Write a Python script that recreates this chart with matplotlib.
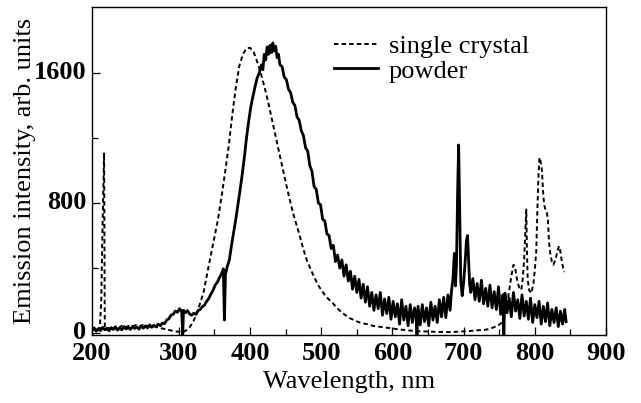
import matplotlib
matplotlib.use("Agg")
import matplotlib.pyplot as plt
import matplotlib.transforms as mtransforms
from matplotlib.ticker import FixedLocator

plt.rcParams['font.family'] = ['Liberation Serif', 'DejaVu Serif']

# ---------------- data ----------------
crystal_nm = [178, 182, 186, 189, 191, 193, 195, 196, 199, 203, 207, 211, 215, 220, 225,
              230, 235, 240, 245, 250, 255, 260, 265, 270, 275, 280, 285, 290, 295, 300,
              305, 310, 315, 320, 325, 330, 335, 340, 345, 350, 355, 360, 365, 370, 375,
              380, 385, 390, 395, 400, 405, 410, 415, 420, 425, 430, 435, 440, 445, 450,
              455, 460, 465, 470, 475, 480, 485, 490, 495, 500, 505, 510, 516, 522, 528,
              534, 540, 546, 552, 558, 564, 572, 580, 588, 596, 605, 615, 625, 634, 645,
              655, 665, 680, 690, 700, 708, 715, 722, 730, 736, 742, 748, 754, 758, 761,
              764, 767, 770, 772, 775, 778, 781, 783, 785, 787, 788, 789, 790, 792, 795,
              798, 800, 802, 803.5, 805, 806.5, 808, 810, 811.5, 813, 815, 817, 818.5, 820,
              822, 824, 826, 828, 830, 832, 834, 836, 838, 841]
crystal_val = [15, 25, 10, 30, 200, 700, 1110, 30, 20, 35, 25, 40, 30, 45, 35,
               45, 40, 50, 40, 50, 45, 40, 45, 35, 30, 25, 20, 15, 10, 8,
               5, 15, 35, 68, 120, 185, 255, 370, 480, 590, 700, 840, 990, 1150, 1340,
               1510, 1645, 1715, 1752, 1755, 1730, 1670, 1600, 1520, 1430, 1330, 1230, 1130, 1030, 930,
               835, 745, 670, 595, 515, 445, 395, 345, 300, 265, 235, 210, 185, 155, 130,
               110, 92, 80, 68, 60, 55, 45, 40, 35, 31, 25, 20, 15, 12, 10,
               8, 7, 6, 8, 10, 12, 15, 18, 20, 25, 35, 45, 65, 120, 180,
               260, 350, 420, 410, 330, 280, 265, 330, 450, 650, 760, 500, 330, 265, 245,
               300, 390, 500, 740, 950, 1080, 1060, 1000, 880, 790, 760, 740, 690, 560,
               480, 440, 420, 440, 470, 510, 535, 500, 440, 375]

powder_nm = [178, 181, 184, 187, 190, 193, 196, 199, 202, 205, 208, 211, 214, 217, 220,
             223, 226, 229, 232, 235, 238, 241, 244, 247, 250, 253, 256, 259, 262, 265,
             268, 271, 274, 277, 280, 283, 286, 289, 292, 295, 298, 301, 304, 305.5, 306.5,
             309, 312, 315, 318, 321, 324, 327, 330, 333, 336, 339, 342, 345, 348, 351,
             354, 357, 360, 362.5, 364, 365.5, 368, 371, 374, 377, 380, 383, 386, 389, 392,
             395, 398, 401, 404, 407, 410, 413, 416, 418, 420, 422, 424, 426, 428, 430,
             432, 434, 436, 438, 440, 442, 445, 448, 451, 454, 457, 460, 463, 466, 469,
             472, 475, 478, 481, 484, 487, 490, 493, 496, 499, 502, 505, 508, 511, 514,
             517, 520, 523, 526, 529, 532, 535, 538, 541, 544, 547, 550, 553, 556, 559,
             562, 565, 568, 571, 574, 577, 580, 583, 586, 589, 592, 595, 598, 601, 604,
             607, 610, 613, 616, 619, 622, 625, 628, 631, 633, 634.5, 636, 639, 642, 645,
             648, 651, 654, 657, 660, 663, 666, 669, 672, 675, 678, 681, 683, 685, 687,
             688.5, 690, 691.5, 693, 694.5, 696, 698, 700, 702, 704, 705.5, 707, 708.5, 710, 713,
             716, 719, 722, 725, 728, 731, 734, 737, 740, 743, 746, 749, 752, 755, 756.5,
             758, 761, 764, 767, 770, 773, 776, 779, 782, 785, 788, 791, 794, 797, 800,
             803, 806, 809, 812, 815, 818, 821, 824, 827, 830, 833, 836, 839, 842, 844]
powder_val = [18, 32, 12, 28, 15, 35, 20, 30, 14, 33, 22, 38, 18, 30, 20,
              40, 25, 35, 22, 42, 28, 38, 24, 45, 30, 44, 32, 50, 35, 48,
              38, 55, 45, 62, 58, 80, 88, 110, 115, 135, 128, 150, 132, -10, 140,
              125, 138, 118, 110, 122, 115, 138, 145, 162, 172, 195, 212, 240, 262, 295,
              312, 340, 365, 395, 80, 360, 410, 450, 540, 620, 700, 790, 880, 975, 1080,
              1200, 1300, 1390, 1455, 1515, 1570, 1600, 1650, 1620, 1715, 1680, 1760, 1715, 1770, 1725,
              1785, 1735, 1765, 1695, 1715, 1650, 1640, 1575, 1560, 1500, 1480, 1420, 1400, 1330, 1310,
              1245, 1215, 1140, 1120, 1030, 995, 900, 885, 800, 790, 700, 690, 610, 600, 520,
              540, 440, 480, 400, 450, 350, 420, 320, 380, 270, 350, 250, 330, 215, 300,
              190, 285, 165, 250, 140, 235, 150, 250, 110, 210, 120, 220, 85, 195, 100,
              180, 55, 205, 80, 165, 45, 175, 65, 155, 120, -10, 165, 50, 175, 70,
              155, 45, 190, 80, 165, 65, 205, 100, 220, 95, 235, 140, 260, 330, 490,
              290, 420, 850, 1157, 760, 320, 230, 310, 430, 570, 600, 450, 300, 250, 335,
              205, 305, 195, 325, 180, 275, 165, 295, 155, 255, 145, 285, 115, 235, -10,
              245, 125, 215, 100, 250, 135, 205, 90, 235, 105, 195, 85, 215, 65, 175,
              95, 195, 55, 165, 70, 185, 45, 145, 65, 155, 40, 135, 55, 145, 70]

series_labels = ["single crystal", "powder"]
xtick_labels = ["200", "300", "400", "500", "600", "700", "800", "900"]
ytick_values = [0, 800, 1600]
ytick_labels = ["0", "800", "1600"]
x_label = "Wavelength, nm"
y_label = "Emission intensity, arb. units"

# ---------------- figure ----------------
fig = plt.figure(figsize=(6.41, 4.03), dpi=100)
ax = fig.add_axes([0.1435, 0.1687, 0.8019, 0.8139])

ax.plot(crystal_nm, crystal_val, color='black', lw=1.4,
        linestyle=(0, (2.3, 1.6)), label=series_labels[0])
ax.plot(powder_nm, powder_val, color='black', lw=2.0,
        linestyle='-', label=series_labels[1])

x_min, x_max = 178, 900
ax.set_xlim(x_min, x_max)
ax.set_ylim(-12, 2006)

ax.set_xticks([x_min, 300, 400, 500, 600, 700, 800, 900], xtick_labels)
ax.xaxis.set_minor_locator(FixedLocator([350, 450, 550, 650, 750, 850]))
ax.set_yticks(ytick_values, ytick_labels)
ax.yaxis.set_minor_locator(FixedLocator([400, 1200]))

ax.tick_params(which='both', direction='in', top=False, right=False,
               width=0.9, colors='black')
ax.tick_params(which='major', length=6, labelsize=19)
ax.tick_params(axis='x', which='major', pad=5)
ax.tick_params(axis='y', which='major', pad=4)
ax.tick_params(which='minor', length=4)

# small upward nudge of the y tick labels (as in the reference)
nudge = mtransforms.ScaledTranslation(0, 2.5 / 72, fig.dpi_scale_trans)
for lab in ax.get_yticklabels():
    lab.set_transform(lab.get_transform() + nudge)
for lab in ax.get_xticklabels() + ax.get_yticklabels():
    lab.set_fontweight('bold')

for sp in ax.spines.values():
    sp.set_linewidth(1.0)

ax.set_xlabel(x_label, fontsize=19)
ax.set_ylabel(y_label, fontsize=19)
ax.xaxis.set_label_coords(0.5, -0.11)
ax.yaxis.set_label_coords(-0.109, 0.5)

leg = ax.legend(loc='upper left', bbox_to_anchor=(0.47, 0.915), frameon=False,
                fontsize=19, handlelength=1.7, handletextpad=0.4,
                labelspacing=0.03, borderpad=0, borderaxespad=0)

fig.savefig("out.png", dpi=100)
